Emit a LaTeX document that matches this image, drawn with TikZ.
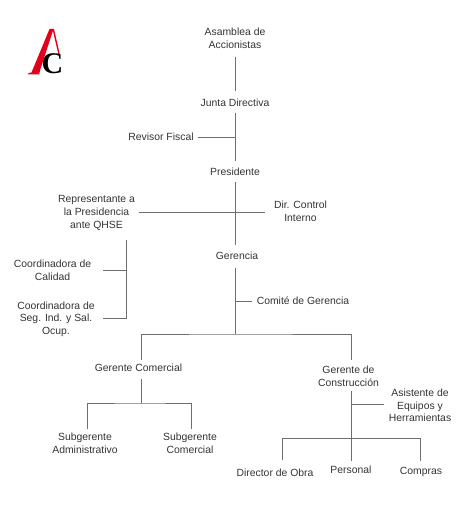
\documentclass[tikz,border=0pt]{standalone}
\usepackage{fontspec}
\setmainfont{Liberation Sans}
\newfontfamily\logofont{Liberation Serif}
\definecolor{txt}{HTML}{333333}
\definecolor{ln}{HTML}{6E6E6E}
\definecolor{logored}{HTML}{E2001A}
\tikzset{
  lbl/.style={align=center,text=txt,font=\fontsize{10.4}{12.6}\selectfont,inner sep=0pt,outer sep=0pt},
  conn/.style={draw=ln,line width=0.95pt},
}
\begin{document}
\begin{tikzpicture}[x=1pt,y=-1pt]
\useasboundingbox (0,0) rectangle (460,516);
% logo
\fill[logored] (49.5,29) -- (53.5,29) -- (40,70.5) -- (39.2,74.5) -- (28,74.5) -- (28.5,73) -- (31.5,72.5) -- cycle;
\fill[logored] (52.5,29) -- (54,29) -- (59.7,54) -- (58.3,54) -- cycle;
\node[font=\logofont\bfseries\fontsize{30}{30}\selectfont,inner sep=0pt,text=black] (logoC) at (52.5,64) {C};
% nodes
\node[lbl] (asamblea) at (235,38.5) {Asamblea de\\Accionistas};
\node[lbl] (junta) at (235,103) {Junta Directiva};
\node[lbl] (revisor) at (161,137) {Revisor Fiscal};
\node[lbl] (presidente) at (235,172) {Presidente};
\node[lbl] (repre) at (96.5,213) {Representante a\\la Presidencia\\ante QHSE};
\node[lbl] (control) at (300.5,211) {Dir. Control\\Interno};
\node[lbl] (gerencia) at (237,256) {Gerencia};
\node[lbl] (calidad) at (52.5,270) {Coordinadora de\\Calidad};
\node[lbl] (seg) at (56,319) {Coordinadora de\\Seg. Ind. y Sal.\\Ocup.};
\node[lbl] (comite) at (303,301) {Comité de Gerencia};
\node[lbl] (comercial) at (138.5,368) {Gerente Comercial};
\node[lbl] (construccion) at (348.5,376) {Gerente de\\Construcción};
\node[lbl] (asistente) at (420,405.5) {Asistente de\\Equipos y\\Herramientas};
\node[lbl] (subadm) at (85,443) {Subgerente\\Administrativo};
\node[lbl] (subcom) at (190,443) {Subgerente\\Comercial};
\node[lbl] (director) at (275,473) {Director de Obra};
\node[lbl] (personal) at (351,470) {Personal};
\node[lbl] (compras) at (421,472) {Compras};
% junction coordinates
\coordinate (jRevisor) at (235.5,137);
\coordinate (jRepreL) at (139,212);
\coordinate (jControlR) at (265,212);
\coordinate (gerBottom) at (235.5,268);
\coordinate (jComite) at (235.5,301);
\coordinate (jMain) at (235.5,334);
\coordinate (comTop) at (141,360);
\coordinate (conTop) at (351,360);
\coordinate (comBottom) at (141,379);
\coordinate (jSubs) at (141,403);
\coordinate (subLTop) at (87,429);
\coordinate (subRTop) at (191,429);
\coordinate (conBottom) at (351,391);
\coordinate (jAsist) at (351,404.5);
\coordinate (asistL) at (384,404.5);
\coordinate (jObra) at (351,438.5);
\coordinate (obraTop) at (282,460);
\coordinate (persTop) at (351,461);
\coordinate (compTop) at (420.5,461);
\coordinate (qTop) at (126,240);
\coordinate (qCal) at (126,270.5);
\coordinate (qSeg) at (126,318);
\coordinate (calR) at (103,270.5);
\coordinate (segR) at (103,318);
\coordinate (aBot) at (235.5,57);
\coordinate (jTop) at (235.5,91);
\coordinate (jBot) at (235.5,113);
\coordinate (pTop) at (235.5,161);
\coordinate (pBot) at (235.5,182);
\coordinate (gTop) at (235.5,245);
% connectors
\draw[conn] (aBot) -- (jTop);
\draw[conn] (jBot) -- (pTop);
\draw[conn] ([xshift=4pt]revisor.east) -- (jRevisor);
\draw[conn] (pBot) -- (gTop);
\draw[conn] (jRepreL) -- (jControlR);
\draw[conn] (gerBottom) -- (jMain);
\draw[conn] (jComite) -- ([xshift=-5pt]comite.west);
\draw[conn] (comTop) |- (jMain) -| (conTop);
\draw[conn] (comBottom) -- (jSubs);
\draw[conn] (subLTop) |- (jSubs) -| (subRTop);
\draw[conn] (conBottom) -- (persTop);
\draw[conn] (jAsist) -- (asistL);
\draw[conn] (obraTop) |- (jObra) -| (compTop);
\draw[conn] (qTop) |- (qSeg) -- (segR);
\draw[conn] (qCal) -- (calR);
\end{tikzpicture}
\end{document}
